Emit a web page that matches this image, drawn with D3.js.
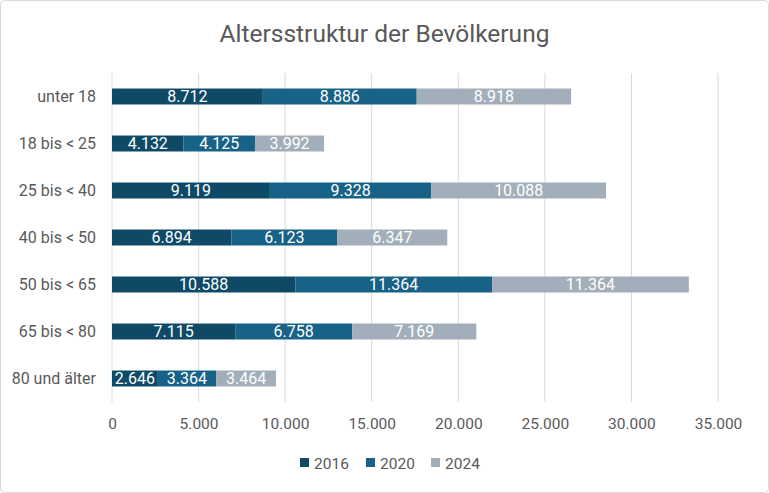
<!DOCTYPE html>
<html>
<head>
<meta charset="utf-8">
<script src="https://cdn.jsdelivr.net/npm/d3@7"></script>
<style>
  body { margin: 0; background: #fff; }
  text { font-family: "Roboto", "Open Sans", sans-serif; }
</style>
</head>
<body>
<div id="chart"></div>
<script>
// chart data
const categories = ["unter 18", "18 bis < 25", "25 bis < 40", "40 bis < 50", "50 bis < 65", "65 bis < 80", "80 und älter"];
const years = ["2016", "2020", "2024"];
const values2016 = [8712, 4132, 9119, 6894, 10588, 7115, 2646];
const values2020 = [8886, 4125, 9328, 6123, 11364, 6758, 3364];
const values2024 = [8918, 3992, 10088, 6347, 11364, 7169, 3464];
const xTicks = [0, 5000, 10000, 15000, 20000, 25000, 30000, 35000];
const colors = ["#0e4a66", "#186287", "#a2afba"];

const width = 769, height = 493;
const margin = {top: 73, right: 51, bottom: 91, left: 112};

const svg = d3.select("#chart").append("svg")
    .attr("width", width)
    .attr("height", height);

// chart border
svg.append("rect")
    .attr("x", 0.5).attr("y", 0.5)
    .attr("width", width - 1).attr("height", height - 1)
    .attr("rx", 4)
    .attr("fill", "#fff")
    .attr("stroke", "#d9d9d9");

svg.append("text")
    .attr("x", width / 2)
    .attr("y", 42)
    .attr("text-anchor", "middle")
    .attr("font-size", 24.5)
    .attr("fill", "#595959")
    .text("Altersstruktur der Bevölkerung");

const x = d3.scaleLinear()
    .domain([0, 35000])
    .range([margin.left, width - margin.right]);

const y = d3.scaleBand()
    .domain(categories)
    .range([margin.top, height - margin.bottom])
    .paddingInner(0.66)
    .paddingOuter(0.33);

// gridlines
svg.append("g")
    .selectAll("line")
    .data(xTicks)
    .enter()
    .append("line")
    .attr("x1", d => x(d)).attr("x2", d => x(d))
    .attr("y1", margin.top).attr("y2", height - margin.bottom)
    .attr("stroke", "#d9d9d9")
    .attr("stroke-width", 1);

// x axis labels
const fmt = d3.formatLocale({decimal: ",", thousands: ".", grouping: [3], currency: ["", "€"]}).format(",d");
const xAxis = svg.append("g")
    .attr("transform", "translate(0," + (height - margin.bottom) + ")")
    .call(d3.axisBottom(x).tickValues(xTicks).tickFormat(fmt).tickSize(0).tickPadding(16));
xAxis.select(".domain").remove();
xAxis.selectAll("text").attr("font-size", 15.5).attr("fill", "#595959")
    .style("font-family", "Roboto, sans-serif");

// y axis labels
const yAxis = svg.append("g")
    .attr("transform", "translate(" + margin.left + ",0)")
    .call(d3.axisLeft(y).tickSize(0).tickPadding(16));
yAxis.select(".domain").remove();
yAxis.selectAll("text").attr("font-size", 16).attr("fill", "#595959")
    .style("font-family", "Roboto, sans-serif");

// stacked bars
const rows = categories.map((c, i) => ({cat: c, "2016": values2016[i], "2020": values2020[i], "2024": values2024[i]}));
const stack = d3.stack().keys(years)(rows);

const layers = svg.append("g")
    .selectAll("g")
    .data(stack)
    .enter()
    .append("g")
    .attr("fill", (d, i) => colors[i]);

layers.selectAll("rect")
    .data(d => d)
    .enter()
    .append("rect")
    .attr("x", d => x(d[0]))
    .attr("y", d => y(d.data.cat))
    .attr("width", d => x(d[1]) - x(d[0]))
    .attr("height", y.bandwidth());

layers.selectAll("text")
    .data(d => d)
    .enter()
    .append("text")
    .attr("x", d => (x(d[0]) + x(d[1])) / 2)
    .attr("y", d => y(d.data.cat) + y.bandwidth() / 2)
    .attr("dy", "0.36em")
    .attr("text-anchor", "middle")
    .attr("font-size", 16)
    .attr("fill", "#fff")
    .text(d => fmt(d[1] - d[0]));

// legend
const legendX = [300, 366, 431];
const legend = svg.append("g")
    .selectAll("g")
    .data(years)
    .enter()
    .append("g")
    .attr("transform", (d, i) => "translate(" + legendX[i] + ",463)");

legend.append("rect")
    .attr("x", 0).attr("y", -5)
    .attr("width", 9).attr("height", 9)
    .attr("fill", (d, i) => colors[i]);

legend.append("text")
    .attr("x", 14)
    .attr("dy", "0.36em")
    .attr("font-size", 15.5)
    .attr("fill", "#595959")
    .text(d => d);
</script>
</body>
</html>
